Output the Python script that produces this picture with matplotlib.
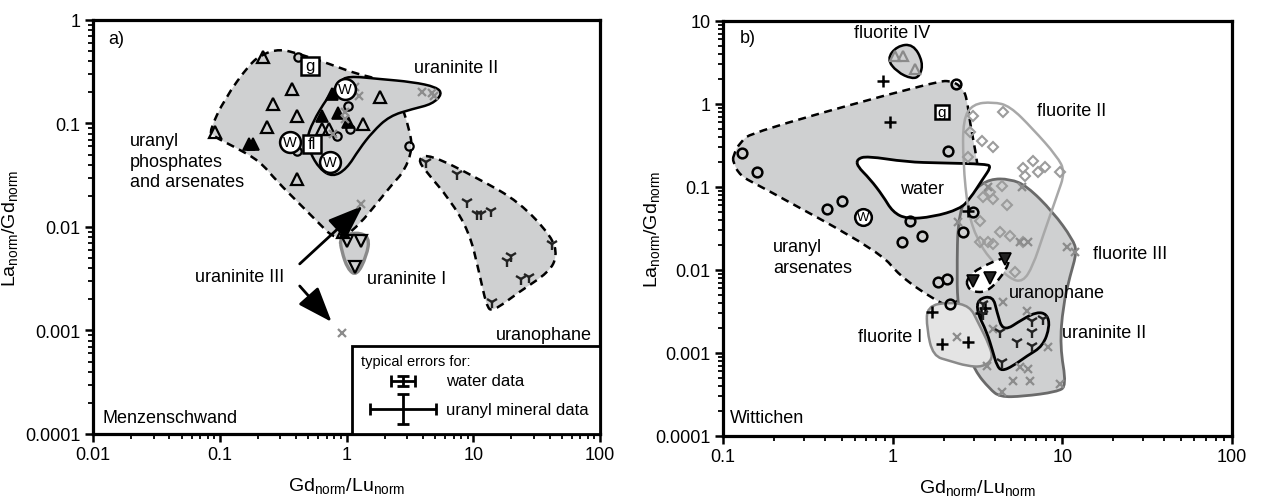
import numpy as np
import matplotlib.pyplot as plt
from matplotlib.path import Path
from matplotlib.patches import PathPatch, Rectangle
from matplotlib.ticker import LogLocator, NullFormatter

plt.rcParams['font.family'] = ['Liberation Sans', 'DejaVu Sans']
plt.rcParams['mathtext.default'] = 'regular'

GREY = '#cfd0d1'
LIGHT = '#e4e4e4'
XGREY = '#8c8c8c'

# ---------- a) Menzenschwand ----------
a_phos_x = [0.083, 0.109, 0.172, 0.218, 0.297, 0.426, 0.735, 1.20, 1.82, 2.61, 3.13, 3.31,
            2.86, 2.30, 1.72, 1.27, 0.96, 0.776, 0.613, 0.426, 0.281, 0.206, 0.131, 0.088]
a_phos_y = [0.085, 0.173, 0.376, 0.469, 0.525, 0.469, 0.376, 0.301, 0.269, 0.173, 0.0885, 0.0567,
            0.0348, 0.026, 0.0167, 0.0107, 0.008, 0.008, 0.0107, 0.0167, 0.0278, 0.0434, 0.0593, 0.0757]
a_urn2_x = [1.02, 1.82, 3.31, 5.12, 5.70, 4.75, 3.31, 2.18, 1.60, 1.26, 1.0, 0.776, 0.613,
            0.512, 0.484, 0.540, 0.696, 0.881]
a_urn2_y = [0.288, 0.269, 0.252, 0.225, 0.193, 0.154, 0.138, 0.118, 0.0827, 0.0567, 0.0363, 0.0304,
            0.0363, 0.053, 0.0708, 0.103, 0.173, 0.252]
a_urn1_x = [0.881, 1.20, 1.52, 1.44, 1.20, 1.02, 0.914]
a_urn1_y = [0.0080, 0.00895, 0.0080, 0.00525, 0.00336, 0.00393, 0.00586]
a_uph_x = [3.62, 4.51, 11.1, 23.0, 41.9, 45.8, 39.6, 23.0, 14.1, 12.7, 11.1, 9.30, 6.47, 4.26]
a_uph_y = [0.0454, 0.0507, 0.0291, 0.0175, 0.0080, 0.00525, 0.00367, 0.00236, 0.00151, 0.00173,
           0.00367, 0.00895, 0.0187, 0.034]

a_tri_x = [0.218, 0.369, 0.261, 0.404, 0.234, 0.0914, 0.404, 1.82, 0.636, 0.721, 1.34, 0.93]
a_tri_y = [0.439, 0.216, 0.154, 0.118, 0.0925, 0.0827, 0.0291, 0.18, 0.0885, 0.0885, 0.099, 0.00895]
a_trif_x = [0.17, 0.182, 0.636, 0.762, 1.02, 0.85]
a_trif_y = [0.0634, 0.0634, 0.118, 0.193, 0.103, 0.125]
a_circ_x = [0.411, 1.02, 0.404, 0.834, 1.06, 3.13]
a_circ_y = [0.439, 0.148, 0.0542, 0.0757, 0.0885, 0.0606]
a_w_x = [0.964, 0.356, 0.735]
a_w_y = [0.216, 0.0663, 0.0425]
a_sq_x = [0.512, 0.530]
a_sq_y = [0.36, 0.0634]
a_sq_lbl = ['g', 'fl']
a_x_x = [1.16, 1.26, 0.964, 0.964, 0.776, 0.735, 1.31, 3.96, 4.75, 4.93, 0.914]
a_x_y = [0.225, 0.184, 0.129, 0.11, 0.079, 0.0363, 0.0167, 0.201, 0.197, 0.184, 0.000946]
a_Y_x = [4.26, 7.48, 8.97, 10.6, 11.6, 13.9, 41.9, 19.9, 18.5, 23.9, 27.6, 14.1]
a_Y_y = [0.0425, 0.0325, 0.0175, 0.0134, 0.0134, 0.0143, 0.00685, 0.00525, 0.00469, 0.00315,
         0.00329, 0.00188]
a_itri_x = [1.0, 1.31, 1.16]
a_itri_y = [0.00732, 0.00732, 0.00411]

# typical errors (log10 half widths)
err_x0 = 2.8
err_water = (3.25e-4, 0.094, 0.048)
err_uranyl = (1.75e-4, 0.26, 0.145)

# ---------- b) Wittichen ----------
b_ars_x = [0.1146, 0.126, 0.150, 1.82, 2.27, 2.60, 2.74, 2.85, 3.14, 3.50, 3.05, 2.18, 1.73,
           1.10, 0.842, 0.165, 0.126, 0.1146]
b_ars_y = [0.236, 0.348, 0.46, 1.89, 1.89, 1.52, 1.15, 0.61, 0.217, 0.041, 0.0059, 0.00358,
           0.00448, 0.00848, 0.0165, 0.103, 0.136, 0.2]
b_water_x = [0.617, 0.706, 1.21, 1.90, 3.59, 3.80, 3.40, 2.85, 2.49, 1.73, 1.21, 1.00, 0.877,
             0.735, 0.617]
b_water_y = [0.217, 0.236, 0.2, 0.195, 0.189, 0.174, 0.125, 0.0716, 0.0543, 0.0436, 0.0411,
             0.050, 0.078, 0.125, 0.179]
b_fl4_x = [0.925, 1.06, 1.32, 1.51, 1.45, 1.30, 1.06]
b_fl4_y = [3.48, 5.0, 5.28, 3.21, 2.17, 2.0, 2.43]
b_fl2_x = [2.60, 2.97, 3.90, 4.91, 6.71, 9.29, 10.4, 9.29, 7.69, 6.71, 5.86, 4.91, 3.74, 3.14,
           2.78, 2.60]
b_fl2_y = [0.659, 1.0, 1.06, 0.946, 0.5, 0.236, 0.152, 0.078, 0.0257, 0.0112, 0.00716, 0.0078,
           0.0136, 0.0236, 0.05, 0.2]
b_fl3_x = [2.43, 3.05, 3.74, 4.91, 6.18, 8.81, 11.5, 12.2, 11.1, 10.1, 9.68, 10.6, 9.29, 5.86,
           4.29, 3.74, 3.05, 2.67, 2.43, 2.39]
b_fl3_y = [0.0543, 0.0946, 0.125, 0.125, 0.103, 0.05, 0.0236, 0.0165, 0.00848, 0.00368, 0.00121,
           0.0004, 0.00034, 0.0003, 0.000295, 0.000368, 0.00061, 0.00128, 0.00368, 0.0078]
b_fl1_x = [1.59, 2.18, 2.85, 3.18, 3.74, 3.90, 3.40, 2.74, 2.18, 1.73, 1.59]
b_fl1_y = [0.00368, 0.00411, 0.00368, 0.00236, 0.00121, 0.000848, 0.000678, 0.000697, 0.000801,
           0.00092, 0.00194]
b_uph_x = [3.18, 3.90, 4.12, 4.47, 5.86, 7.08, 8.11, 8.45, 7.69, 6.18, 5.12, 4.41, 4.12, 3.90,
           3.59, 3.14]
b_uph_y = [0.00448, 0.00487, 0.00312, 0.00179, 0.00257, 0.00312, 0.00295, 0.00211, 0.00121,
           0.00092, 0.000697, 0.000607, 0.000697, 0.00103, 0.00179, 0.00312]
b_dash_x = [2.74, 3.14, 4.72, 4.91, 4.29, 3.59, 2.97, 2.74]
b_dash_y = [0.0078, 0.0103, 0.0148, 0.0125, 0.0078, 0.00543, 0.00543, 0.0064]

b_circ_x = [0.129, 0.158, 2.36, 2.12, 0.41, 0.50, 1.26, 2.97, 2.60, 1.14, 1.49, 1.85, 2.09, 2.18]
b_circ_y = [0.257, 0.152, 1.74, 0.272, 0.054, 0.068, 0.039, 0.050, 0.029, 0.022, 0.026, 0.0072,
            0.0078, 0.0039]
b_w_x, b_w_y = [0.67], [0.044]
b_g_x, b_g_y = [1.95], [0.80]
b_plus_x = [0.877, 0.964, 2.78, 1.71, 1.95, 2.78, 3.3, 3.5]
b_plus_y = [1.89, 0.61, 0.0514, 0.00312, 0.00128, 0.00136, 0.003, 0.0035]
b_tri_x = [1.03, 1.15, 1.35]
b_tri_y = [3.79, 3.79, 2.64]
b_dia_x = [2.97, 4.47, 2.86, 3.36, 3.90, 2.78, 6.71, 5.86, 7.89, 7.18, 9.68, 6.02, 4.41, 3.74,
           3.40, 3.90, 4.72, 3.27, 4.29, 4.91, 3.27, 3.65, 3.90, 5.86, 5.26]
b_dia_y = [0.72, 0.80, 0.46, 0.36, 0.30, 0.23, 0.206, 0.169, 0.174, 0.152, 0.152, 0.136, 0.103,
           0.087, 0.076, 0.072, 0.061, 0.039, 0.029, 0.026, 0.0217, 0.0217, 0.0206, 0.0217, 0.0095]
b_x_x = [3.65, 5.78, 2.43, 5.62, 6.27, 10.6, 11.9, 4.47, 6.18, 8.22, 5.12, 6.44, 5.62, 6.27,
         4.41, 9.68, 3.90, 3.59, 2.39]
b_x_y = [0.1, 0.1, 0.0379, 0.0217, 0.0217, 0.0189, 0.0165, 0.00411, 0.00321, 0.00118, 0.00046,
         0.00046, 0.000678, 0.00064, 0.00034, 0.000423, 0.00194, 0.000697, 0.00156]
b_Y_x = [6.62, 7.69, 6.62, 5.40, 6.62, 4.41, 4.29, 3.40, 3.40]
b_Y_y = [0.00243, 0.00257, 0.00179, 0.00136, 0.00121, 0.00078, 0.00179, 0.0039, 0.00295]
b_vtri_x = [2.97, 3.74, 4.59]
b_vtri_y = [0.00736, 0.008, 0.0136]


def blob(ax, xs, ys, fc, ec, lw=1.8, ls='-', z=1):
    # closed quadratic B-spline through the outline points (in log space)
    lx, ly = np.log10(xs), np.log10(ys)
    n = len(lx)
    mx = [(lx[i] + lx[(i + 1) % n]) / 2 for i in range(n)]
    my = [(ly[i] + ly[(i + 1) % n]) / 2 for i in range(n)]
    verts = [(mx[-1], my[-1])]
    codes = [Path.MOVETO]
    for i in range(n):
        verts += [(lx[i], ly[i]), (mx[i], my[i])]
        codes += [Path.CURVE3, Path.CURVE3]
    verts = [(10 ** u, 10 ** v) for u, v in verts]
    p = PathPatch(Path(verts, codes), fc=fc, ec=ec, lw=lw, ls=ls, zorder=z,
                  joinstyle='round', capstyle='butt')
    ax.add_patch(p)


def style_axes(ax, xlim, ylim, xt, yt, ypad):
    ax.set_xscale('log')
    ax.set_yscale('log')
    ax.set_xlim(*xlim)
    ax.set_ylim(*ylim)
    ax.set_xticks(xt, [f'{v:g}' for v in xt])
    ax.set_yticks(yt, [f'{v:g}' for v in yt])
    for a in (ax.xaxis, ax.yaxis):
        a.set_minor_locator(LogLocator(base=10, subs=np.arange(2, 10)))
        a.set_minor_formatter(NullFormatter())
    ax.tick_params(which='major', direction='out', length=6, width=1.8, labelsize=13, pad=3)
    ax.tick_params(which='minor', direction='out', length=3.5, width=1.3)
    for s in ax.spines.values():
        s.set_linewidth(2.3)
    ax.set_xlabel(r'Gd$_{norm}$/Lu$_{norm}$', fontsize=14, labelpad=8)
    ax.set_ylabel(r'La$_{norm}$/Gd$_{norm}$', fontsize=14, labelpad=ypad)


fig = plt.figure(figsize=(12.66, 5.02), dpi=100)
axa = fig.add_axes([0.0735, 0.1335, 0.4005, 0.8247])
axb = fig.add_axes([0.5711, 0.1295, 0.4020, 0.8267])

DASH = (0, (3.2, 2.2))
mk = dict(ls='none', zorder=4)

# ----- panel a -----
ax = axa
style_axes(ax, (0.01, 100), (1e-4, 1), [0.01, 0.1, 1, 10, 100],
           [0.0001, 0.001, 0.01, 0.1, 1], 4)
blob(ax, a_phos_x, a_phos_y, GREY, 'black', 1.8, DASH, 1)
blob(ax, a_urn2_x, a_urn2_y, GREY, 'black', 1.8, '-', 2)
blob(ax, a_uph_x, a_uph_y, GREY, 'black', 1.8, DASH, 1)
blob(ax, a_urn1_x, a_urn1_y, GREY, '#8a8a8a', 2.4, '-', 2)

ax.plot(a_tri_x, a_tri_y, marker='^', ms=8, mfc='none', mec='black', mew=1.6, **mk)
ax.plot(a_trif_x, a_trif_y, marker='^', ms=8, mfc='black', mec='black', mew=1.2, **mk)
ax.plot(a_circ_x, a_circ_y, marker='o', ms=6, mfc='none', mec='black', mew=1.6, **mk)
ax.plot(a_x_x, a_x_y, marker='x', ms=6, mec=XGREY, mew=1.6, **mk)
ax.plot(a_Y_x, a_Y_y, marker='1', ms=9, mec='#222222', mew=1.7, **mk)
ax.plot(a_itri_x, a_itri_y, marker='v', ms=8, mfc='none', mec='black', mew=1.6, **mk)
ax.plot(a_w_x, a_w_y, marker='o', ms=15, mfc='white', mec='black', mew=1.8, ls='none', zorder=5)
for x, y in zip(a_w_x, a_w_y):
    ax.text(x, y, 'W', ha='center', va='center', fontsize=10.5, zorder=6)
ax.plot(a_sq_x, a_sq_y, marker='s', ms=13, mfc='white', mec='black', mew=1.8, ls='none', zorder=5)
for x, y, t in zip(a_sq_x, a_sq_y, a_sq_lbl):
    ax.text(x, y, t, ha='center', va='center', fontsize=12, zorder=6)

arrow = dict(arrowstyle='-|>,head_length=1.2,head_width=0.45', lw=2, color='black',
             mutation_scale=18, shrinkA=0, shrinkB=0)
ax.annotate('', xy=(1.34, 0.016), xytext=(0.427, 0.0044), arrowprops=arrow, zorder=3)
ax.annotate('', xy=(0.762, 0.00121), xytext=(0.427, 0.00269), arrowprops=arrow, zorder=3)

ax.text(0.0195, 0.0434, 'uranyl\nphosphates\nand arsenates', fontsize=13, ha='left', va='center',
        linespacing=1.3)
ax.text(7.35, 0.351, 'uraninite II', fontsize=13, ha='center', va='center')
ax.text(0.1435, 0.00336, 'uraninite III', fontsize=13, ha='center', va='center')
ax.text(1.44, 0.00315, 'uraninite I', fontsize=13, ha='left', va='center')
ax.text(36.0, 0.00092, 'uranophane', fontsize=13, ha='center', va='center')
ax.text(0.03, 0.955, 'a)', fontsize=13, transform=ax.transAxes, va='center')
ax.text(0.018, 0.04, 'Menzenschwand', fontsize=13, transform=ax.transAxes, va='center')

# typical errors box
ax.add_patch(Rectangle((0.511, 0), 0.489, 0.2126, transform=ax.transAxes, fc='white',
                       ec='black', lw=2, zorder=7))
ax.text(0.528, 0.176, 'typical errors for:', fontsize=10.5, transform=ax.transAxes,
        va='center', zorder=8)
for (y0, dx, dy) in (err_water, err_uranyl):
    xe = [[err_x0 - err_x0 / 10 ** dx], [err_x0 * 10 ** dx - err_x0]]
    ye = [[y0 - y0 / 10 ** dy], [y0 * 10 ** dy - y0]]
    ax.errorbar([err_x0], [y0], xerr=xe, yerr=ye, fmt='none', ecolor='black', elinewidth=2,
                capsize=4, capthick=2, zorder=8)
ax.text(0.697, 0.128, 'water data', fontsize=12, transform=ax.transAxes, va='center', zorder=8)
ax.text(0.697, 0.060, 'uranyl mineral data', fontsize=12, transform=ax.transAxes, va='center',
        zorder=8)

# ----- panel b -----
ax = axb
style_axes(ax, (0.1, 100), (1e-4, 10), [0.1, 1, 10, 100],
           [0.0001, 0.001, 0.01, 0.1, 1, 10], -5)
blob(ax, b_ars_x, b_ars_y, GREY, 'black', 1.8, DASH, 1)
blob(ax, b_fl4_x, b_fl4_y, GREY, 'black', 1.8, '-', 1)
blob(ax, b_fl3_x, b_fl3_y, GREY, '#6a6a6a', 2.0, '-', 2)
blob(ax, b_water_x, b_water_y, 'white', 'black', 2.0, '-', 3)
blob(ax, b_fl1_x, b_fl1_y, LIGHT, '#8a8a8a', 1.8, '-', 3)
blob(ax, b_fl2_x, b_fl2_y, 'none', '#a8a8a8', 1.8, '-', 3)
blob(ax, b_dash_x, b_dash_y, 'white', 'black', 1.8, DASH, 3)
blob(ax, b_uph_x, b_uph_y, 'none', 'black', 2.0, '-', 3)

ax.plot(b_circ_x, b_circ_y, marker='o', ms=7, mfc='none', mec='black', mew=1.8, **mk)
ax.plot(b_plus_x, b_plus_y, marker='+', ms=9, mec='black', mew=1.8, **mk)
ax.plot(b_tri_x, b_tri_y, marker='^', ms=7, mfc='none', mec='#8a8a8a', mew=1.6, **mk)
ax.plot(b_dia_x, b_dia_y, marker='D', ms=5, mfc='none', mec='#9c9c9c', mew=1.5, **mk)
ax.plot(b_x_x, b_x_y, marker='x', ms=6, mec=XGREY, mew=1.6, **mk)
ax.plot(b_Y_x, b_Y_y, marker='1', ms=9, mec='#222222', mew=1.7, **mk)
ax.plot(b_vtri_x, b_vtri_y, marker='v', ms=8, mfc='#222222', mec='black', mew=1.2, **mk)
ax.plot(b_w_x, b_w_y, marker='o', ms=12, mfc='white', mec='black', mew=1.8, ls='none', zorder=5)
ax.text(b_w_x[0], b_w_y[0], 'W', ha='center', va='center', fontsize=9.5, zorder=6)
ax.plot(b_g_x, b_g_y, marker='s', ms=10, mfc='white', mec='black', mew=1.8, ls='none', zorder=5)
ax.text(b_g_x[0], b_g_y[0], 'g', ha='center', va='center', fontsize=11, zorder=6)

ax.text(0.99, 7.36, 'fluorite IV', fontsize=13, ha='center', va='center')
ax.text(11.4, 0.824, 'fluorite II', fontsize=13, ha='center', va='center')
ax.text(1.49, 0.0947, 'water', fontsize=13, ha='center', va='center', zorder=6)
ax.text(0.197, 0.0143, 'uranyl\narsenates', fontsize=13, ha='left', va='center', linespacing=1.3)
ax.text(25.0, 0.0156, 'fluorite III', fontsize=13, ha='center', va='center')
ax.text(9.29, 0.00543, 'uranophane', fontsize=13, ha='center', va='center', zorder=6)
ax.text(9.95, 0.00179, 'uraninite II', fontsize=13, ha='left', va='center')
ax.text(1.49, 0.00156, 'fluorite I', fontsize=13, ha='right', va='center')
ax.text(0.033, 0.96, 'b)', fontsize=13, transform=ax.transAxes, va='center')
ax.text(0.014, 0.045, 'Wittichen', fontsize=13, transform=ax.transAxes, va='center')

fig.savefig('out.png', dpi=100)
